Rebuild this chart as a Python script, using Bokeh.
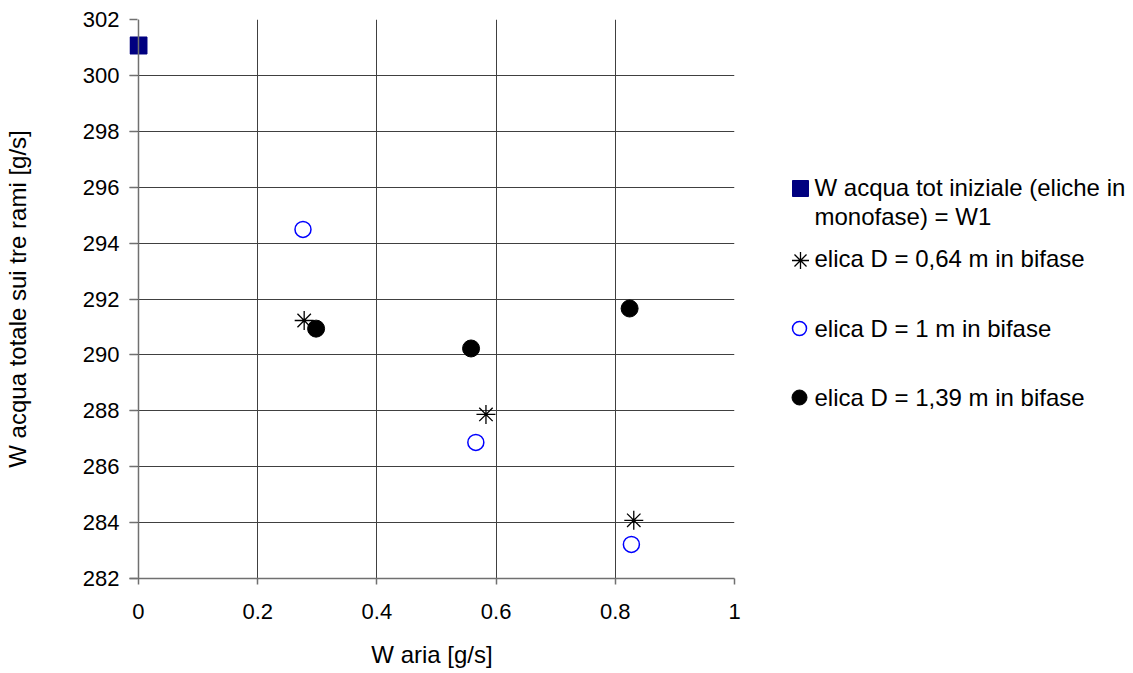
from bokeh.plotting import figure
from bokeh.models import Range1d, FixedTicker, Span
from bokeh.layouts import row
from bokeh.core.properties import value
from bokeh.embed import file_html
from bokeh.resources import INLINE

# data
x_init = [0.0]
y_init = [301.07]
x_d064 = [0.278, 0.583, 0.831]
y_d064 = [291.23, 287.87, 284.08]
x_d1 = [0.276, 0.566, 0.827]
y_d1 = [294.49, 286.87, 283.22]
x_d139 = [0.298, 0.558, 0.824]
y_d139 = [290.94, 290.23, 291.66]
x_ticks = [0, 0.2, 0.4, 0.6, 0.8, 1]
y_ticks = [282, 284, 286, 288, 290, 292, 294, 296, 298, 300, 302]
legend_lines = [["W acqua tot iniziale (eliche in", "monofase) = W1"],
                ["elica D = 0,64 m in bifase"],
                ["elica D = 1 m in bifase"],
                ["elica D = 1,39 m in bifase"]]

FONT = "Liberation Sans"
W, H = 1133, 673
MAIN_W = 744
FR_TOP, FR_BOT = 19, 578

p = figure(width=MAIN_W, height=H, output_backend="svg", toolbar_location=None,
           x_range=Range1d(-9 / 597, 1), y_range=Range1d(282, 302),
           min_border_left=128, min_border_right=MAIN_W - 734,
           min_border_top=FR_TOP, min_border_bottom=H - FR_BOT)
p.outline_line_color = None
p.background_fill_color = "white"
p.border_fill_color = "white"

p.xgrid.grid_line_color = "#404040"
p.ygrid.grid_line_color = "#404040"
p.xgrid.grid_line_width = 1
p.ygrid.grid_line_width = 1
p.add_layout(Span(location=0, dimension="height", line_color="#707070", line_width=1.5))

p.scatter(x_init, y_init, marker="square", size=17, fill_color="#000080", line_color="#000080")
p.scatter(x_d064, y_d064, marker="asterisk", size=19, line_color="black", line_width=1.3)
p.scatter(x_d1, y_d1, marker="circle", size=16, fill_color=None, line_color="blue", line_width=1.5)
p.scatter(x_d139, y_d139, marker="circle", size=17, fill_color="black", line_color="black")

for ax in (p.xaxis[0], p.yaxis[0]):
    ax.axis_line_color = "#707070"
    ax.axis_line_width = 1.5
    ax.major_tick_line_color = "#707070"
    ax.major_tick_line_width = 1.5
    ax.minor_tick_line_color = None
    ax.major_label_text_font = FONT
    ax.major_label_text_font_size = "22px"
    ax.major_label_text_color = "black"
    ax.axis_label_text_font = FONT
    ax.axis_label_text_font_size = "24px"
    ax.axis_label_text_font_style = "normal"
    ax.axis_label_text_color = "black"

p.yaxis.axis_line_color = None
p.yaxis.major_tick_in = 8
p.yaxis.major_tick_out = 0
p.xaxis.major_tick_in = 0
p.xaxis.major_tick_out = 6

p.xaxis.ticker = FixedTicker(ticks=x_ticks)
p.yaxis.ticker = FixedTicker(ticks=y_ticks)
p.xaxis.major_label_overrides = {0: "0", 1: "1"}
p.xaxis.axis_label = "W aria [g/s]"
p.yaxis.axis_label = "W acqua totale sui tre rami [g/s]"
p.xaxis.major_label_standoff = 19
p.yaxis.major_label_standoff = 10
p.xaxis.axis_label_standoff = 19
p.yaxis.axis_label_standoff = 49

# legend panel (pixel coordinates of the picture, y downwards; frame aligned with main plot)
LW = W - MAIN_W
lg = figure(width=LW, height=H, output_backend="svg", toolbar_location=None,
            x_range=Range1d(MAIN_W, W), y_range=Range1d(FR_BOT, FR_TOP),
            min_border_left=0, min_border_right=0,
            min_border_top=FR_TOP, min_border_bottom=H - FR_BOT)
lg.axis.visible = False
lg.grid.visible = False
lg.outline_line_color = None
lg.background_fill_color = "white"
lg.border_fill_color = "white"

mk_x = 800
txt_x = 814
lg.scatter([mk_x], [188], marker="square", size=16, fill_color="#000080", line_color="#000080")
lg.scatter([mk_x], [260], marker="asterisk", size=17, line_color="black", line_width=1.3)
lg.scatter([mk_x - 1], [328], marker="circle", size=14, fill_color=None, line_color="blue", line_width=1.5)
lg.scatter([mk_x - 1], [397], marker="circle", size=15, fill_color="black", line_color="black")

text_rows = [legend_lines[0][0], legend_lines[0][1], legend_lines[1][0],
             legend_lines[2][0], legend_lines[3][0]]
text_y = [187, 216, 258, 328, 397]
lg.text(x=[txt_x] * len(text_rows), y=text_y, text=text_rows,
        text_font=value(FONT), text_font_size="24px", text_color="black",
        text_baseline="middle", text_align="left")

layout = row(p, lg, spacing=0)
open("out.html", "w").write(file_html(layout, INLINE))
